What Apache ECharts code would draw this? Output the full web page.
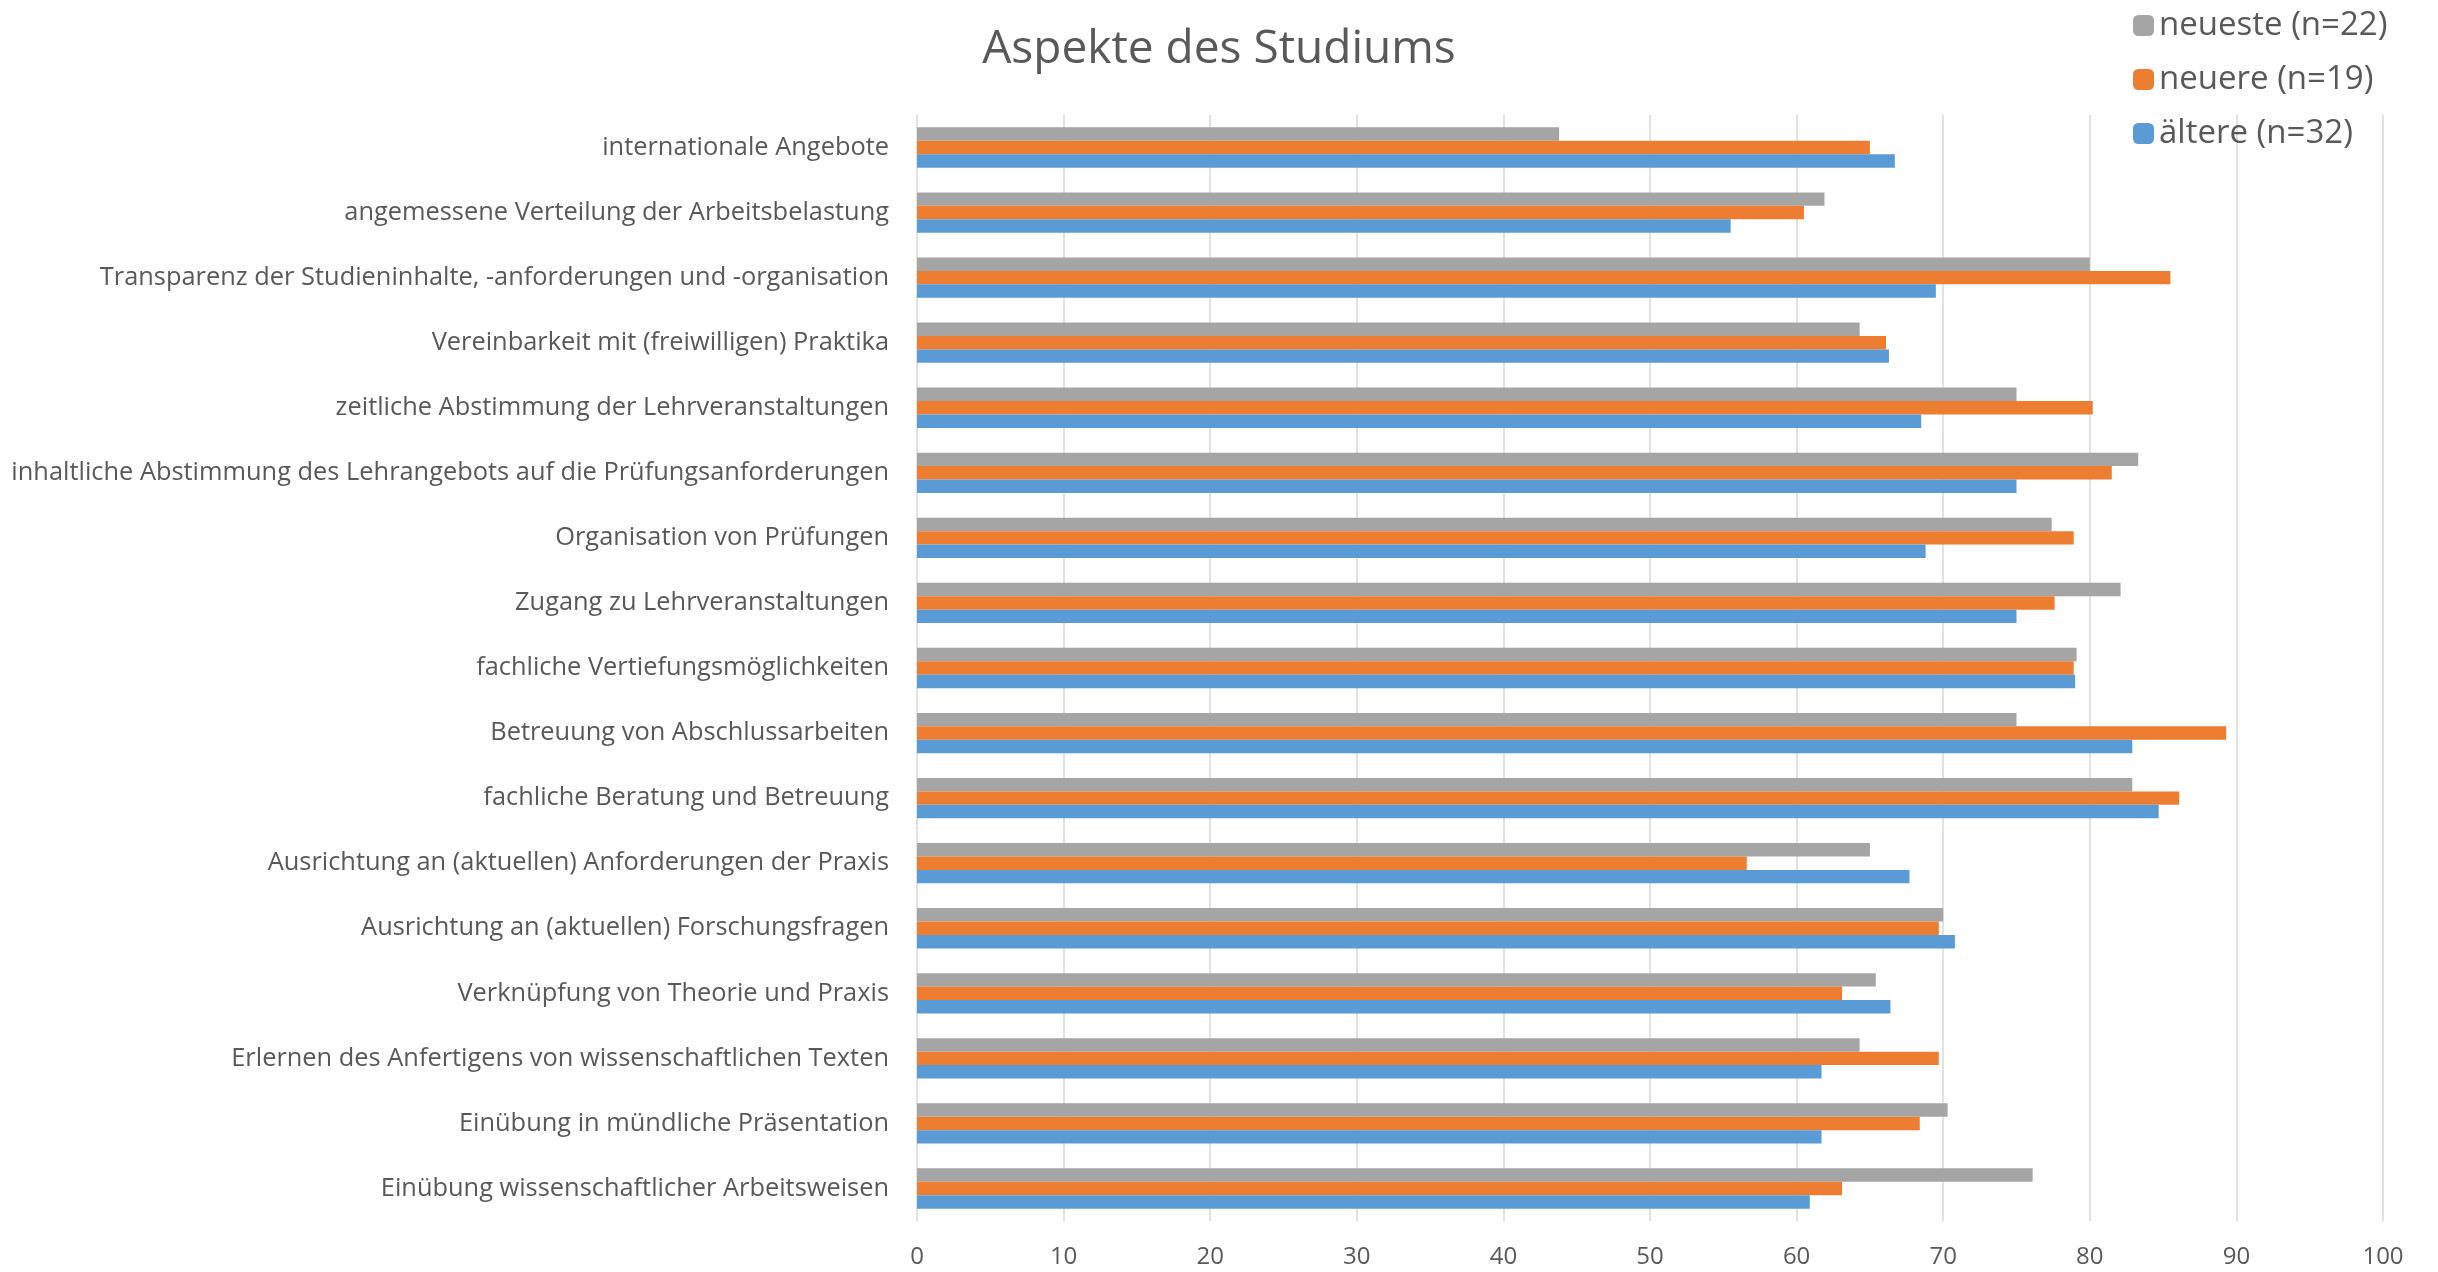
<!DOCTYPE html>
<html lang="de">

<head>
  <meta charset="UTF-8">
  <title>Aspekte des Studiums</title>
  <style>
    html, body { margin: 0; padding: 0; background: #fff; }
  </style>
</head>

<body>
  <div id="main" style="width: 2438px;height:1272px;"></div>

  <script src="https://cdn.jsdelivr.net/npm/echarts@6/dist/echarts.min.js"></script>
  <script>

  // Kategorien von oben nach unten
  const categories = [
    'internationale Angebote',
    'angemessene Verteilung der Arbeitsbelastung',
    'Transparenz der Studieninhalte, -anforderungen und -organisation',
    'Vereinbarkeit mit (freiwilligen) Praktika',
    'zeitliche Abstimmung der Lehrveranstaltungen',
    'inhaltliche Abstimmung des Lehrangebots auf die Prüfungsanforderungen',
    'Organisation von Prüfungen',
    'Zugang zu Lehrveranstaltungen',
    'fachliche Vertiefungsmöglichkeiten',
    'Betreuung von Abschlussarbeiten',
    'fachliche Beratung und Betreuung',
    'Ausrichtung an (aktuellen) Anforderungen der Praxis',
    'Ausrichtung an (aktuellen) Forschungsfragen',
    'Verknüpfung von Theorie und Praxis',
    'Erlernen des Anfertigens von wissenschaftlichen Texten',
    'Einübung in mündliche Präsentation',
    'Einübung wissenschaftlicher Arbeitsweisen'
  ];

  const neueste = [43.8, 61.9, 80.0, 64.3, 75.0, 83.3, 77.4, 82.1, 79.1, 75.0, 82.9, 65.0, 70.0, 65.4, 64.3, 70.3, 76.1];
  const neuere  = [65.0, 60.5, 85.5, 66.1, 80.2, 81.5, 78.9, 77.6, 78.9, 89.3, 86.1, 56.6, 69.7, 63.1, 69.7, 68.4, 63.1];
  const aeltere = [66.7, 55.5, 69.5, 66.3, 68.5, 75.0, 68.8, 75.0, 79.0, 82.9, 84.7, 67.7, 70.8, 66.4, 61.7, 61.7, 60.9];

  const xTicks = [0, 10, 20, 30, 40, 50, 60, 70, 80, 90, 100];

  const font = '"Open Sans", "DejaVu Sans", sans-serif';
  const textColor = '#595959';

  let myChart = echarts.init(document.getElementById('main'));
  let option = {
    animation: false,
    textStyle: { fontFamily: font },
    title: {
      text: 'Aspekte des Studiums',
      left: 'center',
      top: 22,
      textStyle: { fontFamily: font, fontSize: 46, fontWeight: 'normal', color: textColor }
    },
    legend: {
      orient: 'vertical',
      left: 2128,
      top: 4,
      itemWidth: 21,
      itemHeight: 21,
      itemGap: 21,
      data: ['neueste (n=22)', 'neuere (n=19)', 'ältere (n=32)'],
      textStyle: { fontFamily: font, fontSize: 33, color: textColor }
    },
    grid: {
      left: 917,
      right: 55,
      top: 115,
      bottom: 51,
      containLabel: false
    },
    xAxis: {
      type: 'value',
      min: xTicks[0],
      max: xTicks[xTicks.length - 1],
      interval: 10,
      axisLine: { show: false },
      axisTick: { show: false },
      splitLine: { lineStyle: { color: '#D9D9D9', width: 1.5 } },
      axisLabel: { fontFamily: font, fontSize: 24, color: textColor, margin: 24 }
    },
    yAxis: {
      type: 'category',
      inverse: true,
      data: categories,
      axisLine: { show: false },
      axisTick: { show: false },
      axisLabel: { fontFamily: font, fontSize: 25.4, color: textColor, margin: 28 }
    },
    series: [
      {
        name: 'neueste (n=22)',
        type: 'bar',
        data: neueste,
        barGap: '0%',
        barCategoryGap: '38%',
        itemStyle: { color: '#A5A5A5' }
      },
      {
        name: 'neuere (n=19)',
        type: 'bar',
        data: neuere,
        barGap: '0%',
        barCategoryGap: '38%',
        itemStyle: { color: '#ED7D31' }
      },
      {
        name: 'ältere (n=32)',
        type: 'bar',
        data: aeltere,
        barGap: '0%',
        barCategoryGap: '38%',
        itemStyle: { color: '#5B9BD5' }
      }
    ]
  };

  myChart.setOption(option);
  </script>
</body>

</html>
